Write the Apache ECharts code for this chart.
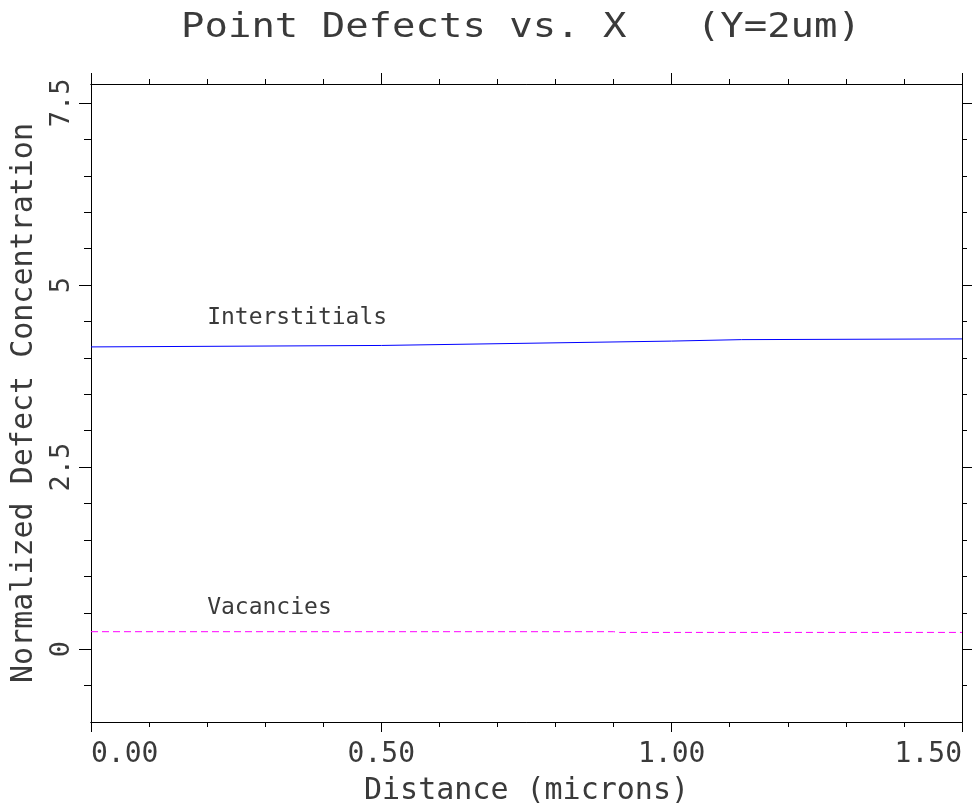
<!DOCTYPE html>
<html>
<head>
<meta charset="utf-8">
<title>Point Defects vs. X</title>
<script src="https://cdn.jsdelivr.net/npm/echarts@6/dist/echarts.min.js"></script>
<style>
  html, body { margin: 0; padding: 0; background: #fff; }
  #chart { width: 977px; height: 804px; }
</style>
</head>
<body>
<div id="chart"></div>
<script>
// distance (microns) / normalized concentration
var interstitialX = [0, 0.5, 1.0, 1.12, 1.5]
var interstitialY = [4.15, 4.17, 4.23, 4.25, 4.26]
var vacancyX = [0, 0.9, 0.91, 1.5]
var vacancyY = [0.24, 0.24, 0.23, 0.23]

var xMajorTicks = [0, 0.5, 1.0, 1.5]
var xMinorTicks = [0.1, 0.2, 0.3, 0.4, 0.6, 0.7, 0.8, 0.9, 1.1, 1.2, 1.3, 1.4]
var yMajorTicks = [0, 2.5, 5, 7.5]
var yMinorTicks = [-0.5, 0.5, 1, 1.5, 2, 3, 3.5, 4, 4.5, 5.5, 6, 6.5, 7]

var font = 'DejaVu Sans Mono'
var ink = '#3a3a3a'
var axisStyle = { color: '#000', width: 1 }

function pairs(xs, ys) {
  var out = []
  for (var i = 0; i < xs.length; i++) out.push([xs[i], ys[i]])
  return out
}

function yAxisCfg(pos, ticks, len, withLabels) {
  var cfg = {
    type: 'value',
    position: pos,
    min: -1,
    max: 7.76,
    axisLine: { show: true, onZero: false, lineStyle: axisStyle },
    axisTick: { show: true, customValues: ticks, length: len, lineStyle: axisStyle },
    axisLabel: { show: false },
    splitLine: { show: false }
  }
  if (withLabels) {
    cfg.axisLabel = {
      show: true,
      customValues: ticks,
      rotate: 90,
      margin: 16,
      fontFamily: font,
      fontSize: 27,
      color: ink
    }
    cfg.name = 'Normalized Defect Concentration'
    cfg.nameLocation = 'middle'
    cfg.nameGap = 52
    cfg.nameTextStyle = { fontFamily: font, fontSize: 30, color: ink }
  }
  return cfg
}

function xAxisCfg(pos, ticks, len, withLabels) {
  var cfg = {
    type: 'value',
    position: pos,
    min: 0,
    max: 1.5,
    axisLine: { show: true, onZero: false, lineStyle: axisStyle },
    axisTick: { show: true, customValues: ticks, length: len, lineStyle: axisStyle },
    axisLabel: { show: false },
    splitLine: { show: false }
  }
  if (withLabels) {
    cfg.axisLabel = {
      show: true,
      customValues: ticks,
      margin: 19,
      fontFamily: font,
      fontSize: 28,
      color: ink,
      alignMinLabel: 'left',
      alignMaxLabel: 'right',
      formatter: function (v) { return v.toFixed(2) }
    }
    cfg.name = 'Distance (microns)'
    cfg.nameLocation = 'middle'
    cfg.nameGap = 54
    cfg.nameTextStyle = { fontFamily: font, fontSize: 30, color: ink }
  }
  return cfg
}

function tagLabel(text, x, y) {
  return {
    symbol: 'circle',
    symbolSize: 0,
    data: [{ coord: [x, y] }],
    label: {
      show: true,
      position: 'right',
      distance: 0,
      formatter: text,
      fontFamily: font,
      fontSize: 23,
      color: ink
    }
  }
}

var myChart = echarts.init(document.getElementById('chart'))
var option = {
  animation: false,
  backgroundColor: '#fff',
  grid: { left: 91, right: 15, top: 84, bottom: 82, containLabel: false, outerBoundsMode: 'none' },
  graphic: [
    {
      type: 'text',
      x: 521,
      y: 28,
      scaleX: 1.18,
      style: {
        text: 'Point Defects vs. X   (Y=2um)',
        font: '33px "DejaVu Sans Mono"',
        fill: ink,
        textAlign: 'center',
        textVerticalAlign: 'middle'
      }
    }
  ],
  xAxis: [
    xAxisCfg('bottom', xMinorTicks, 5, false),
    xAxisCfg('bottom', xMajorTicks, 10, true),
    xAxisCfg('top', xMinorTicks, 5, false),
    xAxisCfg('top', xMajorTicks, 11, false)
  ],
  yAxis: [
    yAxisCfg('left', yMinorTicks, 7, false),
    yAxisCfg('left', yMajorTicks, 12, true),
    yAxisCfg('right', yMinorTicks, 5, false),
    yAxisCfg('right', yMajorTicks, 10, false)
  ],
  series: [
    {
      name: 'Interstitials',
      type: 'line',
      xAxisIndex: 0,
      yAxisIndex: 0,
      showSymbol: false,
      lineStyle: { color: '#0000ff', width: 1 },
      data: pairs(interstitialX, interstitialY),
      markPoint: tagLabel('Interstitials', 0.2, 4.54)
    },
    {
      name: 'Vacancies',
      type: 'line',
      xAxisIndex: 0,
      yAxisIndex: 0,
      showSymbol: false,
      lineStyle: { color: '#ff00ff', width: 1, type: [7, 4] },
      data: pairs(vacancyX, vacancyY),
      markPoint: tagLabel('Vacancies', 0.2, 0.56)
    }
  ]
}
myChart.setOption(option)
</script>
</body>
</html>
